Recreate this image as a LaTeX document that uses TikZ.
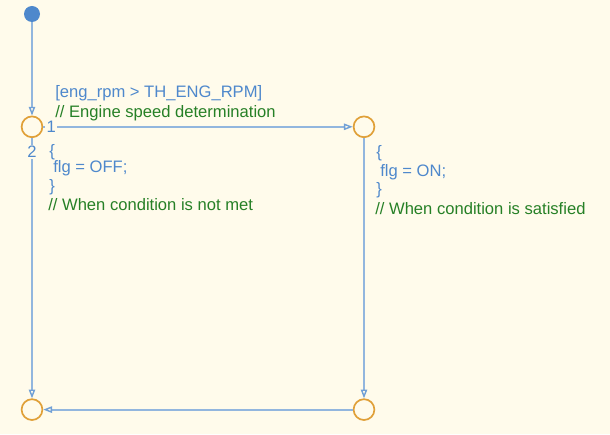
\documentclass[tikz,border=0pt]{standalone}
\usepackage{fontspec}
\setmainfont{Liberation Sans}
\usetikzlibrary{arrows.meta}
\definecolor{hatter}{RGB}{255,251,235}
\definecolor{vonal}{RGB}{146,182,222}
\definecolor{kek}{RGB}{78,136,204}
\definecolor{zold}{RGB}{38,128,38}
\definecolor{narancs}{RGB}{224,160,56}
\tikzset{
  kezd/.style={circle,fill=kek,inner sep=0pt,minimum size=4mm},
  csom/.style={circle,draw=narancs,line width=1.2pt,fill=hatter,inner sep=0pt,minimum size=5.2mm},
  atm/.style={draw=vonal,line width=1.4pt,-{Triangle[open,length=2.2mm,width=1.6mm,line width=1pt,color=kek!80]}},
  cimke/.style={anchor=west,inner sep=0pt,text height=1.6ex,text depth=0.4ex,text=kek},
  megj/.style={cimke,text=zold},
  szam/.style={fill=hatter,inner sep=1pt,text=kek},
}

\begin{document}
\begin{tikzpicture}[font=\fontsize{11.8}{14}\selectfont]
  \fill[hatter] (0,0) rectangle (15.25,10.85);
  \useasboundingbox (0,0) rectangle (15.25,10.85);
  \node[kezd] (start) at (0.8,10.5) {};
  \node[csom] (bal) at (0.8,7.68) {};
  \node[csom] (jobb) at (9.1,7.68) {};
  \node[csom] (jalso) at (9.1,0.61) {};
  \node[csom] (balso) at (0.8,0.61) {};
  % transitions
  \draw[atm] (start) -- (bal);
  \draw[atm] (bal) -- (jobb);
  \draw[atm] (bal) -- (balso);
  \draw[atm] (jobb) -- (jalso);
  \draw[atm] (jalso) -- (balso);
  % order numbers
  \node[szam] (egy) at (1.28,7.68) {1};
  \node[szam] (ketto) at (0.8,7.05) {2};
  % condition
  \node[cimke] (felt) at (1.375,8.525) {[eng\_rpm > TH\_ENG\_RPM]};
  \node[megj] (feltm) at (1.375,8.025) {// Engine speed determination};
  % action when not met
  \node[cimke] (bny) at (1.225,7.05) {\{};
  \node[cimke] (boff) at (1.325,6.65) {flg = OFF;};
  \node[cimke] (bcsuk) at (1.225,6.175) {\}};
  \node[megj] (bm) at (1.2,5.7) {// When condition is not met};
  % action when satisfied
  \node[cimke] (jny) at (9.4,7.025) {\{};
  \node[cimke] (jon) at (9.5,6.55) {flg = ON;};
  \node[cimke] (jcsuk) at (9.4,6.1) {\}};
  \node[megj] (jm) at (9.375,5.6) {// When condition is satisfied};
\end{tikzpicture}
\end{document}
